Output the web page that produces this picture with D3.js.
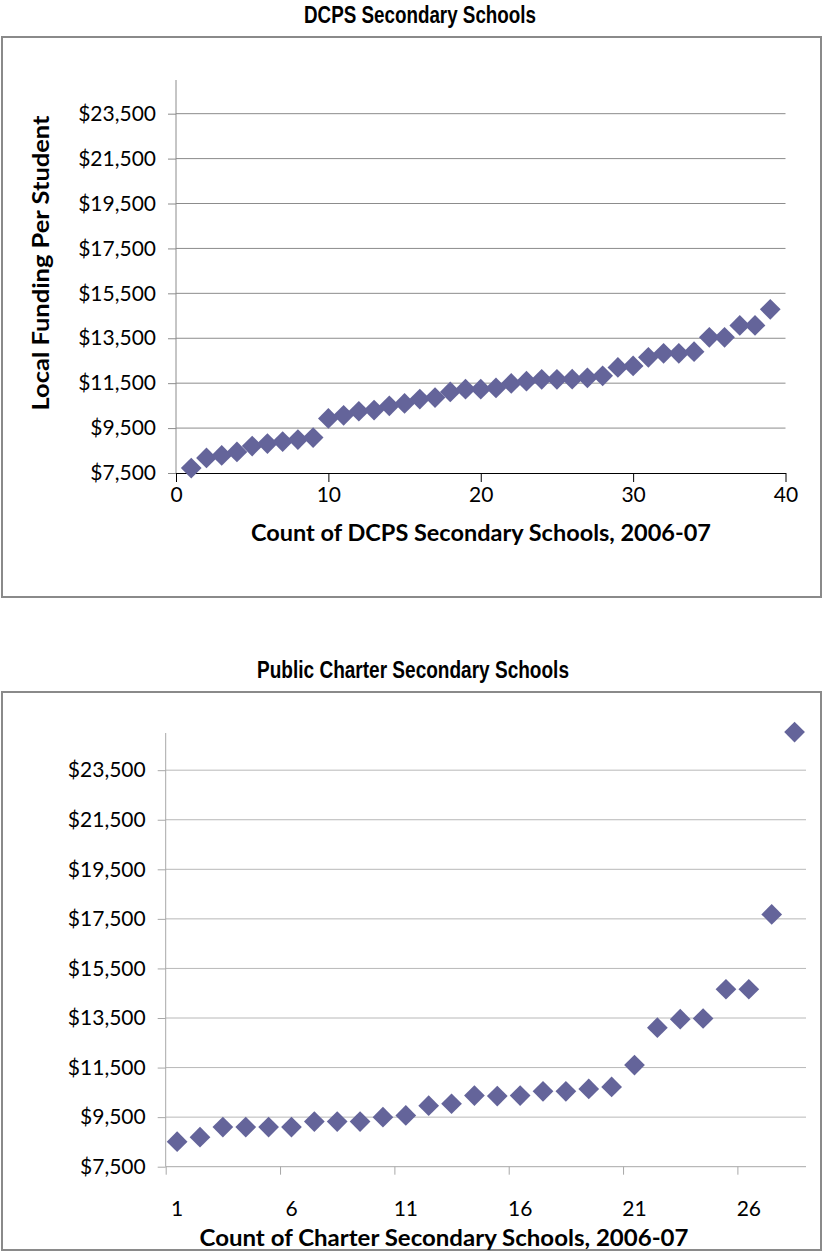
<!DOCTYPE html>
<html>
<head>
<meta charset="utf-8">
<script src="https://cdn.jsdelivr.net/npm/d3@7"></script>
<style>
  html, body { margin: 0; padding: 0; background: #fff; }
  svg { display: block; }
</style>
</head>
<body>
<svg id="chart" width="823" height="1253"></svg>
<script>
// ---------- DATA ----------
const dcpsTitle = "DCPS Secondary Schools";
const dcpsXTitle = "Count of DCPS Secondary Schools, 2006-07";
const dcpsYTitle = "Local Funding Per Student";
const dcpsValues = [7720, 8170, 8280, 8440, 8700, 8810, 8900, 8990, 9080, 9930,
  10070, 10250, 10300, 10490, 10600, 10790, 10860, 11110, 11230, 11230,
  11290, 11490, 11590, 11670, 11670, 11680, 11740, 11830, 12200, 12270,
  12650, 12830, 12830, 12900, 13540, 13540, 14070, 14070, 14790];
const dcpsXTicks = [0, 10, 20, 30, 40];

const charterTitle = "Public Charter Secondary Schools";
const charterXTitle = "Count of Charter Secondary Schools, 2006-07";
const charterValues = [8510, 8690, 9100, 9100, 9100, 9100, 9320, 9320, 9320, 9500,
  9570, 9960, 10040, 10370, 10350, 10370, 10540, 10540, 10640, 10720,
  11600, 13110, 13450, 13480, 14660, 14660, 17680, 25040];
const charterXLabels = [1, 6, 11, 16, 21, 26];
const charterXTickMarks = [0.5, 5.5, 10.5, 15.5, 20.5, 25.5];

const yTicks = [7500, 9500, 11500, 13500, 15500, 17500, 19500, 21500, 23500];
const yDomain = [7500, 25000];

// ---------- STYLE ----------
const markerColor = "#64649a";
const tickFont = "Lato, 'Open Sans', sans-serif";
const titleFont = "'Liberation Sans Narrow', 'Arial Narrow', 'Liberation Sans', Arial, sans-serif";
const fmt = d3.format("$,.0f");

const svg = d3.select("#chart");
const diamond = d3.symbol().type(d3.symbolSquare).size(215);

// ============ TOP CHART ============
(function () {
  const g = svg.append("g");
  g.append("text").attr("x", 420).attr("y", 23).attr("text-anchor", "middle")
    .attr("font-family", titleFont).attr("font-weight", "bold").attr("font-size", 23)
    .attr("textLength", 232).attr("lengthAdjust", "spacingAndGlyphs")
    .text(dcpsTitle);
  g.append("rect").attr("x", 2).attr("y", 37).attr("width", 819).attr("height", 560)
    .attr("fill", "none").attr("stroke", "#8a8a8a").attr("stroke-width", 2);

  const x = d3.scaleLinear().domain([0, 40]).range([176, 785.5]);
  const y = d3.scaleLinear().domain(yDomain).range([473, 80]);

  // gridlines
  g.append("g").selectAll("line").data(yTicks.slice(1)).join("line")
    .attr("x1", 176).attr("x2", 785.5)
    .attr("y1", d => y(d)).attr("y2", d => y(d))
    .attr("stroke", "#8c8c8c").attr("stroke-width", 1);

  // y axis
  const yAxis = g.append("g").attr("transform", "translate(176,0)")
    .call(d3.axisLeft(y).tickValues(yTicks).tickFormat(fmt).tickSize(8).tickPadding(12));
  yAxis.select(".domain").attr("stroke", "#8c8c8c").attr("d", `M0,${y(yDomain[1])}V${y(yDomain[0])}`);
  yAxis.selectAll(".tick line").attr("stroke", "#8c8c8c");
  yAxis.selectAll("text").attr("font-family", tickFont).attr("font-size", 21).attr("fill", "#000");

  // x axis
  const xAxis = g.append("g").attr("transform", "translate(0,473)")
    .call(d3.axisBottom(x).tickValues(dcpsXTicks).tickSize(9).tickPadding(5).tickSizeOuter(0));
  xAxis.select(".domain").attr("stroke", "#000");
  xAxis.selectAll(".tick line").attr("stroke", "#000");
  xAxis.selectAll("text").attr("font-family", tickFont).attr("font-size", 21).attr("fill", "#000");

  // axis titles
  g.append("text").attr("x", 481).attr("y", 541).attr("text-anchor", "middle")
    .attr("font-family", tickFont).attr("font-weight", "bold").attr("font-size", 22.5)
    .attr("textLength", 460).attr("lengthAdjust", "spacingAndGlyphs")
    .text(dcpsXTitle);
  g.append("text").attr("transform", "translate(49,263) rotate(-90)").attr("text-anchor", "middle")
    .attr("font-family", tickFont).attr("font-weight", "bold").attr("font-size", 22.5)
    .attr("textLength", 295).attr("lengthAdjust", "spacingAndGlyphs")
    .text(dcpsYTitle);

  // points
  g.append("g").selectAll("path").data(dcpsValues).join("path")
    .attr("d", diamond)
    .attr("transform", (d, i) => `translate(${x(i + 1)},${y(d)}) rotate(45)`)
    .attr("fill", markerColor);
})();

// ============ BOTTOM CHART ============
(function () {
  const g = svg.append("g");
  g.append("text").attr("x", 413).attr("y", 678).attr("text-anchor", "middle")
    .attr("font-family", titleFont).attr("font-weight", "bold").attr("font-size", 23)
    .attr("textLength", 312).attr("lengthAdjust", "spacingAndGlyphs")
    .text(charterTitle);
  g.append("rect").attr("x", 2).attr("y", 692).attr("width", 819).attr("height", 558)
    .attr("fill", "none").attr("stroke", "#8a8a8a").attr("stroke-width", 2);

  const x = d3.scaleLinear().domain([0.5, 28.5]).range([165.7, 806]);
  const y = d3.scaleLinear().domain(yDomain).range([1166.7, 733]);

  g.append("g").selectAll("line").data(yTicks.slice(1)).join("line")
    .attr("x1", 165.7).attr("x2", 806)
    .attr("y1", d => y(d)).attr("y2", d => y(d))
    .attr("stroke", "#b8b8b8").attr("stroke-width", 1);

  const yAxis = g.append("g").attr("transform", "translate(165.7,0)")
    .call(d3.axisLeft(y).tickValues(yTicks).tickFormat(fmt).tickSize(8).tickPadding(12));
  yAxis.select(".domain").attr("stroke", "#a8a8a8").attr("d", `M0,${y(yDomain[1])}V${y(yDomain[0])}`);
  yAxis.selectAll(".tick line").attr("stroke", "#a8a8a8");
  yAxis.selectAll("text").attr("font-family", tickFont).attr("font-size", 21).attr("fill", "#000");

  // x axis: tick marks between categories, labels at categories
  const xAxis = g.append("g").attr("transform", "translate(0,1166.7)");
  xAxis.append("path").attr("d", `M165.7,0H806`).attr("stroke", "#a8a8a8").attr("fill", "none");
  xAxis.call(d3.axisBottom(x).tickValues(charterXTickMarks).tickFormat("").tickSize(8).tickSizeOuter(0));
  xAxis.select(".domain").remove();
  xAxis.selectAll(".tick line").attr("stroke", "#a8a8a8");
  g.append("g").selectAll("text").data(charterXLabels).join("text")
    .attr("x", d => x(d)).attr("y", 1216).attr("text-anchor", "middle")
    .attr("font-family", tickFont).attr("font-size", 21).attr("fill", "#000")
    .text(d => d);

  g.append("text").attr("x", 444).attr("y", 1246).attr("text-anchor", "middle")
    .attr("font-family", tickFont).attr("font-weight", "bold").attr("font-size", 22.5)
    .attr("textLength", 489).attr("lengthAdjust", "spacingAndGlyphs")
    .text(charterXTitle);

  g.append("g").selectAll("path").data(charterValues).join("path")
    .attr("d", diamond)
    .attr("transform", (d, i) => `translate(${x(i + 1)},${y(d)}) rotate(45)`)
    .attr("fill", markerColor);
})();
</script>
</body>
</html>
